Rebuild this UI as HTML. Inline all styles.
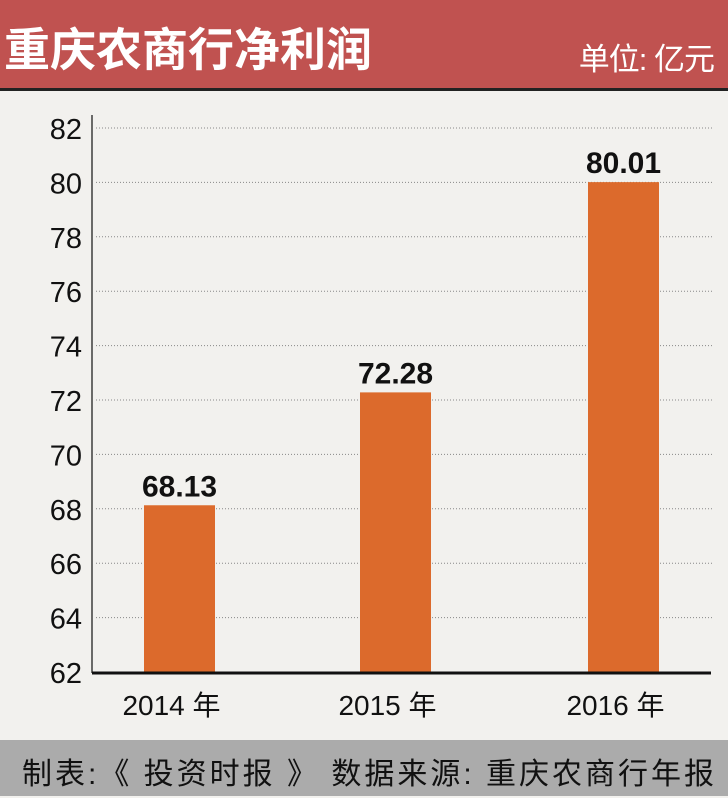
<!DOCTYPE html>
<html><head><meta charset="utf-8"><style>
body{margin:0;width:728px;height:798px;overflow:hidden;background:#f2f1ee;font-family:"Liberation Sans","Noto Sans CJK SC",sans-serif;}
#hdr{position:absolute;left:0;top:0;width:728px;height:88px;background:#c05250;border-bottom:3px solid #222;}
#title{position:absolute;left:4px;top:14px;font-size:46px;font-weight:bold;color:#fff;letter-spacing:0px;}
#unit{position:absolute;right:14px;top:34px;font-size:31px;color:#fff;letter-spacing:-1px;}
#ftr{position:absolute;left:0;top:740px;width:728px;height:56px;background:#ababab;}
#ftxt{position:absolute;left:22px;top:9px;font-size:30px;color:#111;white-space:nowrap;letter-spacing:3px;}
svg{position:absolute;left:0;top:0;}
</style></head><body>
<div id="hdr">
<div id="title">重庆农商行净利润</div>
<div id="unit">单位: 亿元</div>
</div>
<svg id="chart" width="728" height="740"></svg>
<div id="ftr"><div id="ftxt">制表:《 投资时报 》 数据来源: 重庆农商行年报</div></div>
<script>
const categories=["2014 年","2015 年","2016 年"];
const values=[68.13,72.28,80.01];
const valueLabels=["68.13","72.28","80.01"];
const yTicks=[62,64,66,68,70,72,74,76,78,80,82];
const svg=document.getElementById('chart');
const NS='http://www.w3.org/2000/svg';
const y0=672,y1=128,vmin=62,vmax=82;
function y(v){return y0-(v-vmin)/(vmax-vmin)*(y0-y1);}
const xCenters=[179.5,395.5,623.5];
function x(i){return xCenters[i];}
function mk(t,a){const e=document.createElementNS(NS,t);for(const k in a)e.setAttribute(k,a[k]);svg.appendChild(e);return e;}
yTicks.forEach(t=>{
 if(t>vmin){const g=mk('line',{x1:96,x2:712,y1:y(t),y2:y(t),stroke:'#888','stroke-width':1,'stroke-dasharray':'1,2'});
 
 }
 const l=mk('text',{x:82,y:y(t)+11,'text-anchor':'end','font-size':29,fill:'#111','font-family':'Liberation Sans Narrow, Liberation Sans, sans-serif'});
 l.textContent=t;
 
 
});
const ax=mk('line',{x1:92,x2:92,y1:115,y2:673,stroke:'#111','stroke-width':1.2});


categories.forEach((c,i)=>{
 const b=mk('rect',{x:x(i)-35.5,y:y(values[i]),width:71,height:y0-y(values[i]),fill:'#dc6a2c'});
 
 
 const v=mk('text',{x:x(i),y:y(values[i])-9,'text-anchor':'middle','font-size':30,'font-weight':'bold',fill:'#111','font-family':'Liberation Sans Narrow, Liberation Sans, sans-serif'});
 v.textContent=valueLabels[i];
 
 
 const t=mk('text',{x:x(i)-8,y:715,'text-anchor':'middle','font-size':28,fill:'#111','font-family':'Liberation Sans Narrow, Liberation Sans, Noto Sans CJK SC, sans-serif'});
 t.textContent=c;
 
 
});
const bx=mk('line',{x1:92,x2:711,y1:673,y2:673,stroke:'#111','stroke-width':3});


</script>
</body></html>
